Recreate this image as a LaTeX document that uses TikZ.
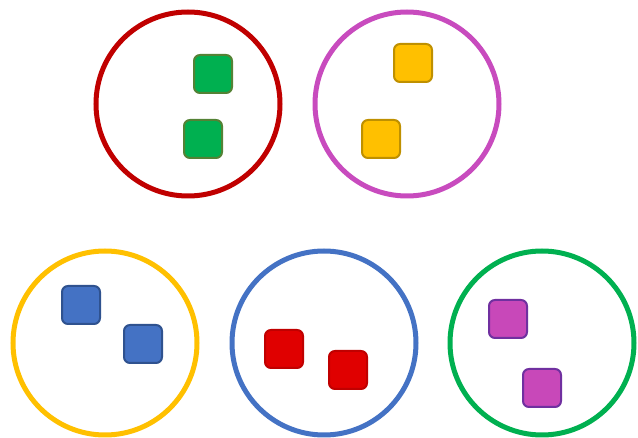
\documentclass[tikz,border=0pt]{standalone}
\usepackage{xcolor}
\usepackage{tikz}
\usetikzlibrary{positioning}
\definecolor{cred}{RGB}{192,0,0}
\definecolor{cpink}{RGB}{200,75,190}
\definecolor{cgold}{RGB}{255,192,0}
\definecolor{cblue}{RGB}{68,114,196}
\definecolor{cgreen}{RGB}{0,176,80}
\definecolor{dgreen}{RGB}{84,130,53}
\definecolor{dgold}{RGB}{191,144,0}
\definecolor{dblue}{RGB}{47,82,143}
\definecolor{bred}{RGB}{224,0,0}
\definecolor{dred}{RGB}{192,0,0}
\definecolor{bpink}{RGB}{200,72,185}
\definecolor{dpink}{RGB}{112,48,160}

\begin{document}
\begin{tikzpicture}[
  x=1pt,y=-1pt,
  ring/.style={circle,line width=5pt,minimum size=184pt,inner sep=0pt},
  blk/.style={rounded corners=6pt,line width=2pt,minimum size=38pt,inner sep=0pt}
]
  \useasboundingbox (0,0) rectangle (638,438);
  % sets
  \node[ring,draw=cred]  (s1) at (188,104) {};
  \node[ring,draw=cpink] (s2) at (407,104) {};
  \node[ring,draw=cgold] (s3) at (105,343) {};
  \node[ring,draw=cblue] (s4) at (324,343) {};
  \node[ring,draw=cgreen](s5) at (542,343) {};
  % members
  \node[blk,draw=dgreen,fill=cgreen] (s1a) at (213,74) {};
  \node[blk,draw=dgreen,fill=cgreen] (s1b) at (203,139) {};
  \node[blk,draw=dgold,fill=cgold]   (s2a) at (413,63) {};
  \node[blk,draw=dgold,fill=cgold]   (s2b) at (381,139) {};
  \node[blk,draw=dblue,fill=cblue]   (s3a) at (81,305) {};
  \node[blk,draw=dblue,fill=cblue]   (s3b) at (143,344) {};
  \node[blk,draw=dred,fill=bred]     (s4a) at (284,349) {};
  \node[blk,draw=dred,fill=bred]     (s4b) at (348,370) {};
  \node[blk,draw=dpink,fill=bpink]   (s5a) at (508,319) {};
  \node[blk,draw=dpink,fill=bpink]   (s5b) at (542,388) {};
\end{tikzpicture}
\end{document}
